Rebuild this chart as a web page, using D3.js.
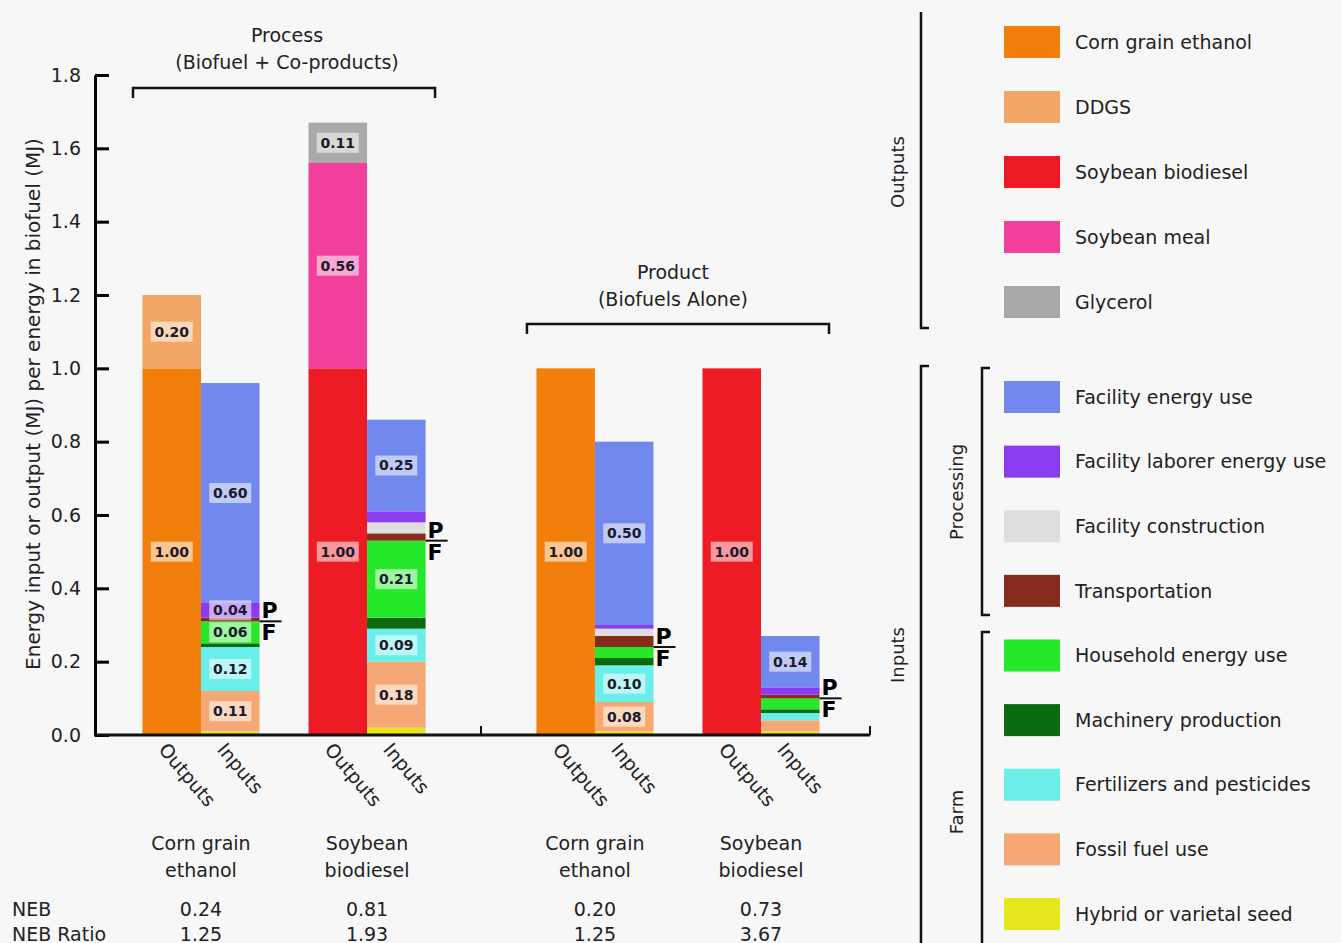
<!DOCTYPE html>
<html>
<head>
<meta charset="utf-8">
<script src="https://cdn.jsdelivr.net/npm/d3@7"></script>
<style>
  body { margin: 0; background: #f7f7f7; }
  svg { font-family: "DejaVu Sans", "Liberation Sans", Arial, sans-serif; }
</style>
</head>
<body>
<div id="chart"></div>
<script>
// categories
var sections = ["Process", "Product"];
var sectionSubtitles = ["(Biofuel + Co-products)", "(Biofuels Alone)"];
var fuels = ["Corn grain ethanol", "Soybean biodiesel"];
var fuelLines = [["Corn grain", "ethanol"], ["Soybean", "biodiesel"]];
var sides = ["Outputs", "Inputs"];

var outputCats = ["Corn grain ethanol", "DDGS", "Soybean biodiesel", "Soybean meal", "Glycerol"];
var inputCats = ["Hybrid or varietal seed", "Fossil fuel use", "Fertilizers and pesticides",
  "Machinery production", "Household energy use", "Transportation", "Facility construction",
  "Facility laborer energy use", "Facility energy use"];
var farmCount = 5; // first five input categories are farm inputs

// values (MJ per MJ biofuel), same order as the categories above
var processCornOut = [1.00, 0.20, 0, 0, 0];
var processSoyOut  = [0, 0, 1.00, 0.56, 0.11];
var productCornOut = [1.00, 0, 0, 0, 0];
var productSoyOut  = [0, 0, 1.00, 0, 0];

var processCornIn = [0.01, 0.11, 0.12, 0.01, 0.06, 0.01, 0.00, 0.04, 0.60];
var processSoyIn  = [0.02, 0.18, 0.09, 0.03, 0.21, 0.02, 0.03, 0.03, 0.25];
var productCornIn = [0.01, 0.08, 0.10, 0.02, 0.03, 0.03, 0.02, 0.01, 0.50];
var productSoyIn  = [0.01, 0.03, 0.02, 0.01, 0.03, 0.01, 0.00, 0.02, 0.14];

var nebValues = ["0.24", "0.81", "0.20", "0.73"];
var nebRatios = ["1.25", "1.93", "1.25", "3.67"];
var yTicks = [0, 0.2, 0.4, 0.6, 0.8, 1.0, 1.2, 1.4, 1.6, 1.8];

// colours
var outputColors = ["#f27f0c", "#f2a766", "#ec1b24", "#f23f9c", "#a9a9a9"];
var inputColors = ["#e6e61e", "#f5a874", "#6aeeea", "#0b690f", "#25e82a",
  "#862b1e", "#dedede", "#8b3cf0", "#7189ee"];

// stacked bars built from the arrays
var outSets = [[processCornOut, processSoyOut], [productCornOut, productSoyOut]];
var inSets = [[processCornIn, processSoyIn], [productCornIn, productSoyIn]];

var bars = [];
sections.forEach(function(s, si) {
  fuels.forEach(function(f, fi) {
    [outSets[si][fi], inSets[si][fi]].forEach(function(vals, k) {
      var y0 = 0;
      var segs = vals.map(function(v, i) {
        var seg = { y0: y0, y1: y0 + v, value: v,
          color: k === 0 ? outputColors[i] : inputColors[i] };
        y0 += v;
        return seg;
      });
      var farm = 0;
      if (k === 1) farm = d3.sum(vals.slice(0, farmCount));
      bars.push({ section: s, fuel: f, side: sides[k], segs: segs, farm: farm });
    });
  });
});

var width = 1341, height = 943;
var svg = d3.select("#chart").append("svg")
  .attr("width", width).attr("height", height);

var txt = "#222";

// scales
var y = d3.scaleLinear().domain([0, 1.8]).range([735, 75]);
var xSection = d3.scaleBand().domain(sections).range([129, 833]).paddingInner(0.213);
var xFuel = d3.scaleBand().domain(fuels).range([0, xSection.bandwidth()])
  .paddingInner(0.295).paddingOuter(0.081);
var xSide = d3.scaleBand().domain(sides).range([0, xFuel.bandwidth()]);

function barX(d) { return xSection(d.section) + xFuel(d.fuel) + xSide(d.side); }
function fuelCenter(s, f) { return xSection(s) + xFuel(f) + xFuel.bandwidth() / 2; }

// bars
var barG = svg.selectAll(".bar").data(bars).enter().append("g")
  .attr("class", "bar")
  .attr("transform", function(d) { return "translate(" + barX(d) + ",0)"; });

barG.selectAll("rect").data(function(d) { return d.segs.filter(function(s) { return s.value > 0; }); })
  .enter().append("rect")
  .attr("x", 0)
  .attr("width", xSide.bandwidth())
  .attr("y", function(d) { return y(d.y1); })
  .attr("height", function(d) { return y(d.y0) - y(d.y1); })
  .attr("fill", function(d) { return d.color; });

// value labels
var lab = barG.selectAll(".vl").data(function(d) { return d.segs.filter(function(s) { return s.value >= 0.04; }); })
  .enter().append("g").attr("class", "vl")
  .attr("transform", function(d) { return "translate(" + (xSide.bandwidth() / 2) + "," + y((d.y0 + d.y1) / 2) + ")"; });
lab.append("rect")
  .attr("x", -21).attr("y", -10).attr("width", 42).attr("height", 20)
  .attr("fill", "#ffffff").attr("fill-opacity", 0.55);
lab.append("text")
  .attr("text-anchor", "middle").attr("dy", "0.35em")
  .attr("font-size", "14px").attr("font-weight", "bold").attr("fill", "#1a1a2a")
  .text(function(d) { return d.value.toFixed(2); });

// P / F markers at the farm / processing boundary
var pf = svg.selectAll(".pf").data(bars.filter(function(d) { return d.side === "Inputs"; }))
  .enter().append("g").attr("class", "pf")
  .attr("transform", function(d) { return "translate(" + (barX(d) + xSide.bandwidth()) + "," + y(d.farm) + ")"; });
pf.append("line").attr("x1", 0).attr("x2", 22).attr("y1", 0).attr("y2", 0)
  .attr("stroke", "#111").attr("stroke-width", 2);
pf.append("text").attr("x", 2).attr("y", -3).attr("font-size", "22px").attr("font-weight", "bold").text("P");
pf.append("text").attr("x", 2).attr("y", 19).attr("font-size", "22px").attr("font-weight", "bold").text("F");

// y axis
var yAxis = svg.append("g").attr("transform", "translate(95,0)")
  .call(d3.axisLeft(y).tickValues(yTicks).tickFormat(d3.format(".1f")).tickSize(-14).tickSizeOuter(0).tickPadding(14));
yAxis.select(".domain").attr("stroke-width", 3);
yAxis.selectAll(".tick line").attr("stroke-width", 3);
yAxis.selectAll("text").attr("font-size", "19px").attr("fill", txt)
  .attr("font-family", "DejaVu Sans, sans-serif");

svg.append("text")
  .attr("transform", "translate(40,404) rotate(-90)")
  .attr("text-anchor", "middle").attr("font-size", "20px").attr("fill", txt)
  .text("Energy input or output (MJ) per energy in biofuel (MJ)");

// x axis line with small break marks
var xEnd = xSection.range()[1] + 37;
svg.append("line").attr("x1", 94).attr("x2", xEnd).attr("y1", 735).attr("y2", 735)
  .attr("stroke", "#111").attr("stroke-width", 3);
var breakX = (xSection("Process") + xSection.bandwidth() + xSection("Product")) / 2;
[breakX, xEnd].forEach(function(bx) {
  svg.append("line").attr("x1", bx).attr("x2", bx).attr("y1", 735).attr("y2", 726)
    .attr("stroke", "#111").attr("stroke-width", 2);
});

// rotated Outputs / Inputs labels
svg.selectAll(".sideLabel").data(bars).enter().append("text")
  .attr("class", "sideLabel")
  .attr("transform", function(d) {
    return "translate(" + (barX(d) + xSide.bandwidth() / 2 - 14) + ",750) rotate(50)";
  })
  .attr("font-size", "19px").attr("fill", txt)
  .text(function(d) { return d.side; });

// fuel names, NEB rows
var groups = [];
sections.forEach(function(s) { fuels.forEach(function(f, fi) { groups.push({ s: s, f: f, fi: fi }); }); });

groups.forEach(function(g, i) {
  var cx = fuelCenter(g.s, g.f);
  fuelLines[g.fi].forEach(function(line, li) {
    svg.append("text").attr("x", cx).attr("y", 850 + li * 27)
      .attr("text-anchor", "middle").attr("font-size", "19px").attr("fill", txt).text(line);
  });
  svg.append("text").attr("x", cx).attr("y", 916).attr("text-anchor", "middle")
    .attr("font-size", "19px").attr("fill", txt).text(nebValues[i]);
  svg.append("text").attr("x", cx).attr("y", 941).attr("text-anchor", "middle")
    .attr("font-size", "19px").attr("fill", txt).text(nebRatios[i]);
});
svg.append("text").attr("x", 12).attr("y", 916).attr("font-size", "19px").attr("fill", txt).text("NEB");
svg.append("text").attr("x", 12).attr("y", 941).attr("font-size", "19px").attr("fill", txt).text("NEB Ratio");

// section brackets and titles
var bracketY = [88, 324];
var titleY = [42, 279];
sections.forEach(function(s, i) {
  var x0 = xSection(s) + 4, x1 = xSection(s) + xSection.bandwidth() - 4;
  var by = bracketY[i];
  svg.append("path")
    .attr("d", "M" + x0 + "," + (by + 10) + " V" + by + " H" + x1 + " V" + (by + 10))
    .attr("fill", "none").attr("stroke", "#111").attr("stroke-width", 2.5);
  var cx = (x0 + x1) / 2 + (i === 0 ? 3 : -5);
  svg.append("text").attr("x", cx).attr("y", titleY[i]).attr("text-anchor", "middle")
    .attr("font-size", "19px").attr("fill", txt).text(s);
  svg.append("text").attr("x", cx).attr("y", titleY[i] + 27).attr("text-anchor", "middle")
    .attr("font-size", "19px").attr("fill", txt).text(sectionSubtitles[i]);
});

// legend
var legendItems = outputCats.map(function(c, i) { return { name: c, color: outputColors[i] }; })
  .concat(inputCats.slice().reverse().map(function(c, i) {
    return { name: c, color: inputColors[inputCats.length - 1 - i] };
  }));
// outputs and inputs parts of the legend are spaced separately
var legOut = d3.scaleLinear().domain([0, 4]).range([42, 302]);
var legIn = d3.scaleLinear().domain([0, 8]).range([397, 914]);

var leg = svg.selectAll(".leg").data(legendItems).enter().append("g").attr("class", "leg")
  .attr("transform", function(d, i) {
    var yy = i < outputCats.length ? legOut(i) : legIn(i - outputCats.length);
    return "translate(1004," + yy + ")";
  });
leg.append("rect").attr("x", 0).attr("y", -16).attr("width", 56).attr("height", 32)
  .attr("fill", function(d) { return d.color; });
leg.append("text").attr("x", 71).attr("dy", "0.35em").attr("font-size", "19px").attr("fill", txt)
  .text(function(d) { return d.name; });

// legend brackets
function vBracket(x, y0, y1, hookTop, hookBottom) {
  var d = "";
  d += hookTop ? "M" + (x + 8) + "," + y0 + " H" + x : "M" + x + "," + y0;
  d += " V" + y1;
  if (hookBottom) d += " H" + (x + 8);
  svg.append("path").attr("d", d).attr("fill", "none").attr("stroke", "#111").attr("stroke-width", 2.5);
}
vBracket(921, 12, 328, false, true);
vBracket(921, 366, 950, true, false);
vBracket(982, 368, 615, true, true);
vBracket(982, 632, 950, true, false);

function vLabel(x, yy, t) {
  svg.append("text").attr("transform", "translate(" + x + "," + yy + ") rotate(-90)")
    .attr("text-anchor", "middle").attr("font-size", "18px").attr("fill", txt).text(t);
}
vLabel(904, 172, "Outputs");
vLabel(904, 655, "Inputs");
vLabel(963, 492, "Processing");
vLabel(963, 812, "Farm");
</script>
</body>
</html>
